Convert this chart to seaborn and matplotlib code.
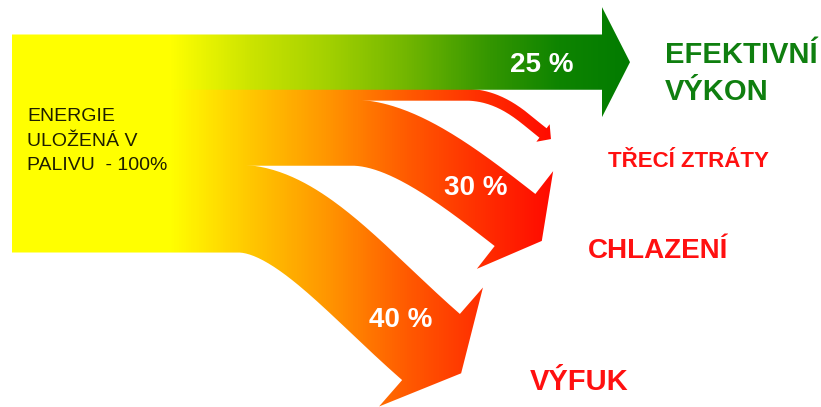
import numpy as np
import seaborn as sns
import matplotlib
matplotlib.use("Agg")
import matplotlib.pyplot as plt
from matplotlib.path import Path
from matplotlib.patches import PathPatch, Rectangle
from matplotlib.colors import LinearSegmentedColormap

# Energy balance of a combustion engine (share of fuel energy, %)
source_lines = ["ENERGIE", "ULOŽENÁ V", "PALIVU  - 100%"]
source_share = 100
flow_names = ["EFEKTIVNÍ\nVÝKON", "TŘECÍ ZTRÁTY", "CHLAZENÍ", "VÝFUK"]
flow_shares = [25, 5, 30, 40]
flow_value_labels = ["25 %", "", "30 %", "40 %"]

sns.set_theme(style="white")
plt.rcParams["font.family"] = ["Liberation Sans", "DejaVu Sans"]

W, H = 821, 407
fig = plt.figure(figsize=(W / 100, H / 100), dpi=100)
ax = fig.add_axes([0, 0, 1, 1])
ax.set_xlim(0, W)
ax.set_ylim(H, 0)
ax.axis("off")

# drawing scale: the fuel block is 217 units tall for 100 %
x0, top, block_h = 12, 35, 217
unit = block_h / source_share
thick = [s * unit for s in flow_shares]
slot_top = top + np.concatenate([[0], np.cumsum(thick)[:-1]])
centre_y = slot_top + np.array(thick) / 2

# colour ramps along x (yellow fuel -> useful work / heat losses)
grad_x0, grad_x1 = x0, 640


def ramp(stops):
    pos = [(x - grad_x0) / (grad_x1 - grad_x0) for x, _ in stops]
    return LinearSegmentedColormap.from_list("ramp", list(zip(pos, [c for _, c in stops])))


green_ramp = ramp([(12, "#ffff00"), (170, "#ffff00"), (250, "#cce400"),
                   (330, "#a2d000"), (413, "#6eb400"), (490, "#349600"),
                   (560, "#0e8400"), (640, "#007a00")])
heat_ramp = ramp([(12, "#ffff00"), (170, "#ffff00"), (255, "#ffc400"),
                  (330, "#ff9400"), (405, "#ff5c00"), (475, "#ff3200"),
                  (550, "#ff0c00"), (640, "#ff0000")])


def bezier(p0, p1, p2, p3, n=80):
    t = np.linspace(0, 1, n)[:, None]
    p0, p1, p2, p3 = map(np.asarray, (p0, p1, p2, p3))
    return ((1 - t) ** 3) * p0 + 3 * ((1 - t) ** 2) * t * p1 + 3 * (1 - t) * t ** 2 * p2 + t ** 3 * p3


def arrow_polygon(centre, width, head_half, head_len):
    c = np.asarray(centre, float)
    tang = np.gradient(c, axis=0)
    tang /= np.linalg.norm(tang, axis=1, keepdims=True)
    nrm = np.column_stack([-tang[:, 1], tang[:, 0]])
    left = c + nrm * width / 2
    right = c - nrm * width / 2
    end, d, n = c[-1], tang[-1], nrm[-1]
    head = [end + n * head_half, end + d * head_len, end - n * head_half]
    return np.vstack([left, head, right[::-1], left[:1]])


def centre_line(y, x_bend, k1, end, angle_deg, k2):
    d = np.array([np.cos(np.radians(angle_deg)), np.sin(np.radians(angle_deg))])
    end = np.asarray(end, float)
    flat = np.column_stack([np.linspace(x0, x_bend, 40, endpoint=False), np.full(40, y)])
    curve = bezier((x_bend, y), (x_bend + k1, y), end - k2 * d, end)
    return np.vstack([flat, curve])


# shape of each flow: bend start, curve handles, arrow end, direction, head size
shapes = [
    dict(line=np.column_stack([np.linspace(x0, 602, 60), np.full(60, centre_y[0])]),
         head=(55, 28), cmap=green_ramp),
    dict(line=centre_line(centre_y[1], 465, 38, (543, 133), 37, 22), head=(11, 10), cmap=heat_ramp),
    dict(line=centre_line(centre_y[2], 352, 50, (515, 220), 38, 70), head=(62, 34), cmap=heat_ramp),
    dict(line=centre_line(centre_y[3], 238, 60, (431, 347), 41, 95), head=(79, 40), cmap=heat_ramp),
]

# fuel block behind the flows
ax.add_patch(Rectangle((x0, top), 180 - x0, block_h, facecolor="#ffff00", edgecolor="none", zorder=1))

gradient = np.linspace(0, 1, 800)[None, :].repeat(2, axis=0)
for i in range(len(flow_shares) - 1, -1, -1):
    s = shapes[i]
    poly = arrow_polygon(s["line"], thick[i] + 1.0, *s["head"])
    patch = PathPatch(Path(poly), facecolor="none", edgecolor="none", transform=ax.transData)
    ax.add_patch(patch)
    im = ax.imshow(gradient, extent=(grad_x0, grad_x1, H, 0), cmap=s["cmap"],
                   aspect="auto", interpolation="bilinear", zorder=2)
    im.set_clip_path(patch)

ax.set_xlim(0, W)
ax.set_ylim(H, 0)

# source description
for line, yb in zip(source_lines, [121, 146, 170]):
    ax.text(27, yb, line, fontsize=14, color="#1e1e00", va="baseline", ha="left", zorder=5)

# value labels on the arrows
value_pos = [(542, 65), None, (476, 188), (401, 320)]
for lab, pos in zip(flow_value_labels, value_pos):
    if lab and pos:
        ax.text(pos[0], pos[1], lab, fontsize=20, fontweight="bold", color="white",
                ha="center", va="center", zorder=6)

# destination names
green_txt, red_txt = "#0f7f0f", "#ff1010"
eff_lines = flow_names[0].split("\n")
ax.text(665, 63, eff_lines[0], fontsize=21, fontweight="bold", color=green_txt, va="baseline", zorder=6)
ax.text(665, 100, eff_lines[1], fontsize=21, fontweight="bold", color=green_txt, va="baseline", zorder=6)
ax.text(608, 167, flow_names[1], fontsize=16, fontweight="bold", color=red_txt, va="baseline", zorder=6)
ax.text(588, 258, flow_names[2], fontsize=20, fontweight="bold", color=red_txt, va="baseline", zorder=6)
ax.text(530, 390, flow_names[3], fontsize=21, fontweight="bold", color=red_txt, va="baseline", zorder=6)

fig.savefig("out.png", dpi=100, facecolor="white")
